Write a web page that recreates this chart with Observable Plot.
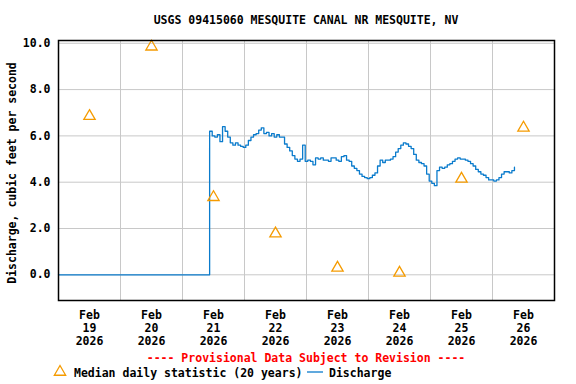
<!DOCTYPE html>
<html><head><meta charset="utf-8">
<script src="https://cdn.jsdelivr.net/npm/d3@7"></script>
<script src="https://cdn.jsdelivr.net/npm/@observablehq/plot@0.6"></script>
<style>
body{margin:0;background:#fff;}
#c{width:576px;height:384px;}
</style></head><body><div id="c"></div>
<script>
const titleText = "USGS 09415060 MESQUITE CANAL NR MESQUITE, NV";
const yLabelText = "Discharge, cubic feet per second";
const provisionalText = "---- Provisional Data Subject to Revision ----";
const medianLabel = "Median daily statistic (20 years)";
const dischargeLabel = "Discharge";

const dayLabels = ["2026-02-19","2026-02-20","2026-02-21","2026-02-22","2026-02-23","2026-02-24","2026-02-25","2026-02-26"];
const yTicks = [0, 2, 4, 6, 8, 10];

const medianValues = [6.85, 9.85, 3.35, 1.78, 0.3, 0.08, 4.14, 6.35];

const zeroTimes = ["2026-02-19T00:00", "2026-02-21T10:15"];
const zeroValues = [0, 0];

const flowStart = "2026-02-21T10:30";
const flowStepHours = 1;
const flowValues = [
  6.2, 6.0, 5.95, 6.05, 5.75, 6.4, 6.2, 5.95, 5.7, 5.6, 5.7, 5.6, 5.55, 5.5,
  5.6, 5.8, 5.95, 6.05, 6.1, 6.25, 6.35, 6.1, 6.15, 6.0, 6.1, 5.95, 6.05, 5.95, 5.95, 5.65, 5.5, 5.35, 5.15, 5.0, 4.9, 5.0, 5.6, 4.9,
  4.95, 4.9, 4.75, 5.05, 5.0, 5.05, 4.95, 4.95, 4.9, 5.05, 5.05, 4.95, 4.9, 5.1, 5.15, 4.95, 4.9, 4.7, 4.6, 4.5, 4.35, 4.25, 4.2, 4.15,
  4.2, 4.3, 4.4, 4.7, 4.95, 4.85, 4.95, 4.95, 5.0, 5.1, 5.3, 5.45, 5.6, 5.7, 5.65, 5.55, 5.45, 5.2, 4.95, 4.85, 4.8, 4.7, 4.35, 4.05,
  3.95, 3.85, 4.5, 4.65, 4.6, 4.65, 4.75, 4.8, 4.9, 5.0, 5.05, 5.0, 5.0, 4.95, 4.9, 4.8, 4.7, 4.55, 4.45, 4.35, 4.3, 4.2, 4.1, 4.1,
  4.05, 4.1, 4.2, 4.35, 4.45, 4.45, 4.4, 4.5, 4.65
];

const utc = s => new Date(s + (s.length > 10 ? ":00Z" : "T00:00:00Z"));
const HOUR = 3600e3;
const noon = dayLabels.map(d => new Date(utc(d).getTime() + 12 * HOUR));
const midnights = dayLabels.slice(1).map(utc);
const medianData = dayLabels.map((d, i) => ({t: noon[i], v: medianValues[i]}));
const t0 = utc(flowStart).getTime();
const flowData = zeroTimes.map((t, i) => ({t: utc(t), v: zeroValues[i]}))
  .concat(flowValues.map((v, i) => ({t: new Date(t0 + i * flowStepHours * HOUR), v})));

const months = ["Jan","Feb","Mar","Apr","May","Jun","Jul","Aug","Sep","Oct","Nov","Dec"];
const fmtX = d => `${months[d.getUTCMonth()]}\n${d.getUTCDate()}\n${d.getUTCFullYear()}`;

const FONT = "DejaVu Sans Mono";
const BLUE = "#0a7bcc";
const ORANGE = "#f59b00";

const chart = Plot.plot({
  width: 576, height: 384,
  marginLeft: 58, marginRight: 22, marginTop: 40, marginBottom: 84,
  style: {fontFamily: FONT, fontSize: "11.5px", fontWeight: "bold", color: "black", background: "white"},
  x: {type: "utc", domain: [utc("2026-02-19"), utc("2026-02-27")]},
  y: {domain: [-1.11, 10.12]},
  marks: [
    Plot.gridX(midnights, {stroke: "#c8c8c8", strokeOpacity: 1, strokeWidth: 1}),
    Plot.gridY(yTicks, {stroke: "#c8c8c8", strokeOpacity: 1, strokeWidth: 1}),
    Plot.line(flowData, {x: "t", y: "v", stroke: BLUE, strokeWidth: 1.3, curve: "step-after"}),
    Plot.dot(medianData, {x: "t", y: "v", symbol: "triangle", r: 4.2, stroke: ORANGE, strokeWidth: 1.3, fill: "none"}),
    Plot.frame({stroke: "black", strokeWidth: 1.5}),
    Plot.axisY(yTicks, {tickSize: 0, tickPadding: 8, tickFormat: d => d.toFixed(1), label: null, fontSize: 11.5}),
    Plot.axisX(noon, {tickSize: 0, tickPadding: 9, tickFormat: fmtX, label: null, lineHeight: 1.13, fontSize: 11.5})
  ]
});
document.getElementById("c").appendChild(chart);

const svg = d3.select(chart);
const g = svg.append("g").attr("font-family", FONT).attr("font-weight", "bold").attr("font-size", 11.5).attr("text-anchor", "start");
g.append("text").attr("x", 306).attr("y", 24).attr("text-anchor", "middle").attr("fill", "black").text(titleText);
g.append("text").attr("transform", "translate(12,173) rotate(-90)").attr("text-anchor", "middle")
  .attr("dominant-baseline", "central").attr("fill", "black").text(yLabelText);
g.append("text").attr("x", 306).attr("y", 362).attr("text-anchor", "middle").attr("fill", "#ff0000").text(provisionalText);
g.append("path").attr("d", d3.symbol(d3.symbolTriangle, Math.PI * 4.2 * 4.2)())
  .attr("transform", "translate(60,372)").attr("fill", "none").attr("stroke", ORANGE).attr("stroke-width", 1.3);
g.append("text").attr("x", 74).attr("y", 377).attr("text-anchor", "start").attr("fill", "black").text(medianLabel);
g.append("line").attr("x1", 307).attr("x2", 323).attr("y1", 372).attr("y2", 372).attr("stroke", BLUE).attr("stroke-width", 1.3);
g.append("text").attr("x", 329).attr("y", 377).attr("text-anchor", "start").attr("fill", "black").text(dischargeLabel);
</script>
</body></html>
